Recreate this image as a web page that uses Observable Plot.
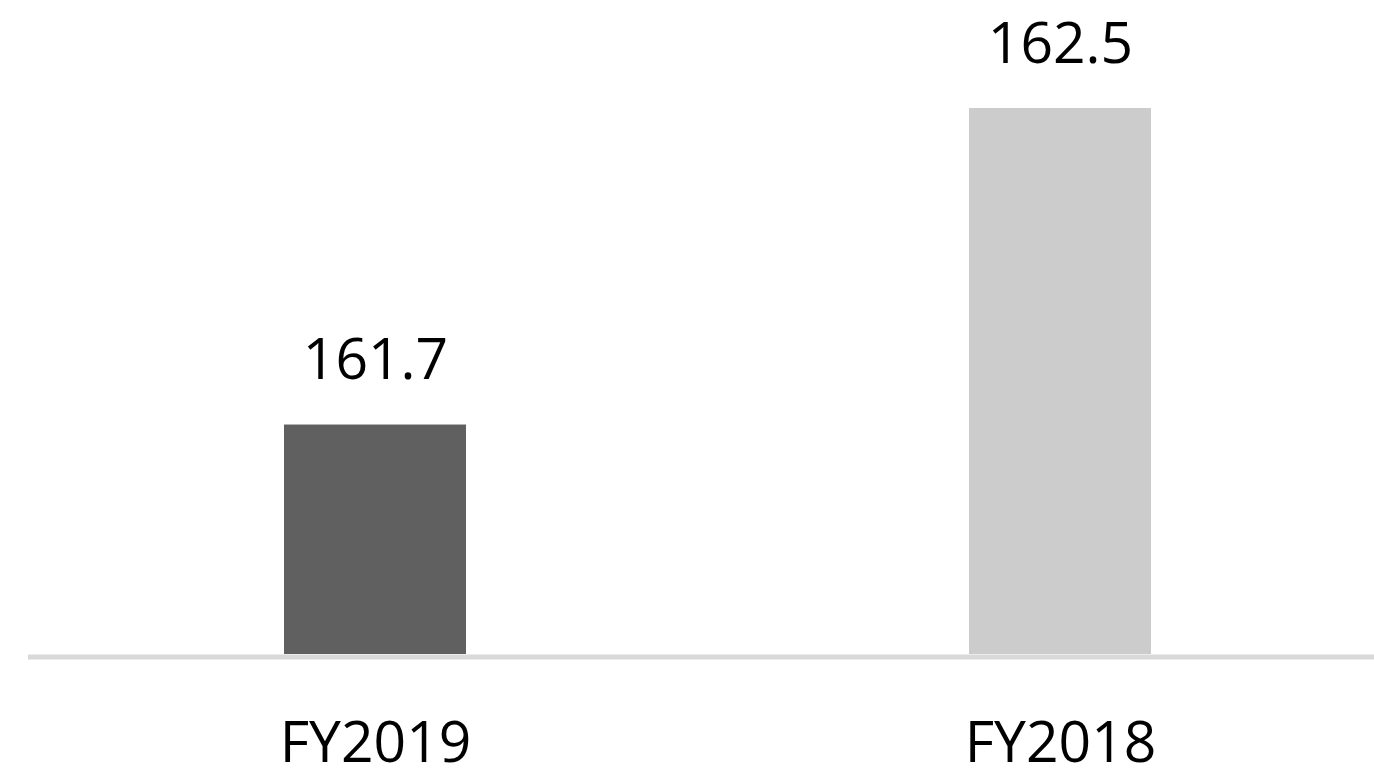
<!DOCTYPE html>
<html>
<head>
<meta charset="utf-8">
<script src="https://cdn.jsdelivr.net/npm/d3@7"></script>
<script src="https://cdn.jsdelivr.net/npm/@observablehq/plot@0.6"></script>
<style>
  html, body { margin: 0; padding: 0; background: #fff; }
  #chart svg { display: block; }
</style>
</head>
<body>
<div id="chart"></div>
<script>
const categories = ["FY2019", "FY2018"];
const values = [161.7, 162.5];
const labels = ["161.7", "162.5"];
const barColors = ["#606060", "#cccccc"];

const yMin = 161.12;
const yMax = 162.5;

const data = categories.map((c, i) => ({ category: c, value: values[i], label: labels[i], color: barColors[i] }));

const chart = Plot.plot({
  width: 1374,
  height: 769,
  marginTop: 108,
  marginBottom: 115,
  marginLeft: 28,
  marginRight: 0,
  style: { fontFamily: "'Open Sans', sans-serif", background: "#fff", color: "#000" },
  x: { domain: categories, range: [29.5, 1404.5], paddingInner: 0.735, paddingOuter: 0.371, label: null },
  y: { domain: [yMin, yMax], axis: null },
  marks: [
    Plot.barY(data, { x: "category", y1: yMin, y2: "value", fill: "color" }),
    Plot.ruleY([yMin], { stroke: "#d9d9d9", strokeWidth: 5, dy: 2.5 }),
    Plot.text(data, { x: "category", y: "value", text: "label", lineAnchor: "bottom", dy: -46, fontSize: 57, fill: "#000" }),
    Plot.axisX({ tickSize: 0, tickPadding: 67, fontSize: 57, label: null, fill: "#000" })
  ]
});
document.getElementById("chart").appendChild(chart);
</script>
</body>
</html>
